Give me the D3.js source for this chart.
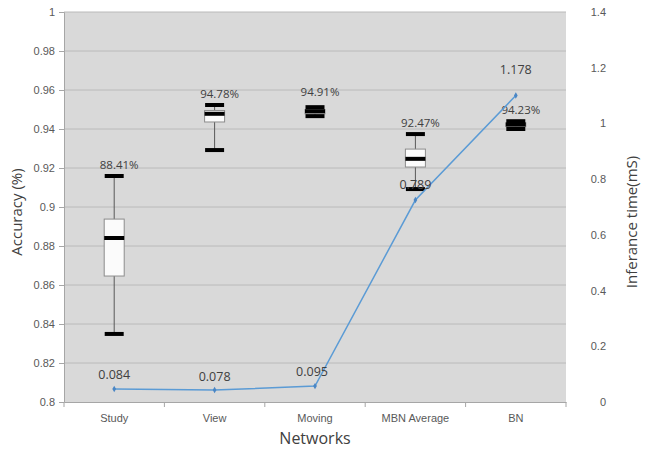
<!DOCTYPE html>
<html>
<head>
<meta charset="utf-8">
<script src="https://cdn.jsdelivr.net/npm/d3@7"></script>
<style>
  body { margin: 0; background: #fff; }
  svg { display: block; font-family: "Open Sans", "DejaVu Sans", sans-serif; }
</style>
</head>
<body>
<svg width="645" height="450"></svg>
<script>
// accuracy boxes per network + inference time line
const networks = ['Study', 'View', 'Moving', 'MBN Average', 'BN'];
const accMin = [0.8349, 0.9292, 0.9466, 0.9092, 0.9400];
const accQ1 = [0.8646, 0.9436, 0.9478, 0.9205, 0.9412];
const accMedian = [0.8841, 0.9478, 0.9491, 0.9247, 0.9423];
const accQ3 = [0.8938, 0.9495, 0.9500, 0.9297, 0.9432];
const accMax = [0.9159, 0.9523, 0.9512, 0.9374, 0.9440];
const accLabels = ['88.41%', '94.78%', '94.91%', '92.47%', '94.23%'];
const timeValues = [0.047, 0.043, 0.057, 0.725, 1.10];
const timeLabels = ['0.084', '0.078', '0.095', '0.789', '1.178'];
const leftTicks = [0.8, 0.82, 0.84, 0.86, 0.88, 0.9, 0.92, 0.94, 0.96, 0.98, 1];
const rightTicks = [0, 0.2, 0.4, 0.6, 0.8, 1, 1.2, 1.4];

function draw() {
  const svg = d3.select('svg');
  const left = 64, right = 566, top = 12, bottom = 402;

  const x = d3.scaleBand().domain(networks).range([left, right]);
  const y = d3.scaleLinear().domain([0.8, 1]).range([bottom, top]);
  const y2 = d3.scaleLinear().domain([0, 1.4]).range([bottom, top]);

  // plot background
  svg.append('rect')
    .attr('x', left).attr('y', top)
    .attr('width', right - left).attr('height', bottom - top)
    .attr('fill', '#d9d9d9');

  // gridlines
  svg.append('g')
    .selectAll('line')
    .data(leftTicks.slice(1))
    .join('line')
    .attr('x1', left).attr('x2', right)
    .attr('y1', d => y(d)).attr('y2', d => y(d))
    .attr('stroke', '#bababa').attr('stroke-width', 1);

  // left axis
  const yAxis = svg.append('g')
    .attr('transform', `translate(${left},0)`)
    .call(d3.axisLeft(y).tickValues(leftTicks).tickSize(5).tickPadding(4)
      .tickFormat(d => d3.format('')(+d.toFixed(2))));
  yAxis.select('.domain').attr('stroke', '#a6a6a6');
  yAxis.selectAll('.tick line').attr('stroke', '#a6a6a6');
  yAxis.selectAll('text').attr('fill', '#595959').attr('font-size', 11);

  // right axis (labels only)
  const y2Axis = svg.append('g')
    .attr('transform', `translate(${right + 40},0)`)
    .call(d3.axisLeft(y2).tickValues(rightTicks).tickSize(0).tickPadding(0)
      .tickFormat(d => d3.format('')(+d.toFixed(1))));
  y2Axis.select('.domain').remove();
  y2Axis.selectAll('text').attr('fill', '#595959').attr('font-size', 11);

  // bottom axis
  const xAxis = svg.append('g')
    .attr('transform', `translate(0,${bottom})`)
    .call(d3.axisBottom(x).tickSize(0).tickPadding(12));
  xAxis.select('.domain').attr('stroke', '#a6a6a6');
  xAxis.selectAll('text').attr('fill', '#595959').attr('font-size', 11);
  xAxis.selectAll('.bound')
    .data(d3.range(networks.length + 1))
    .join('line')
    .attr('x1', i => left + i * x.step()).attr('x2', i => left + i * x.step())
    .attr('y1', 0).attr('y2', 5)
    .attr('stroke', '#a6a6a6');

  // box plots
  const boxW = 20, capW = 19;
  const boxes = svg.append('g')
    .selectAll('g')
    .data(networks)
    .join('g')
    .attr('transform', d => `translate(${x(d) + x.bandwidth() / 2},0)`);

  boxes.append('line')
    .attr('y1', (d, i) => y(accMin[i])).attr('y2', (d, i) => y(accMax[i]))
    .attr('stroke', '#595959').attr('stroke-width', 1);
  boxes.append('rect')
    .attr('x', -boxW / 2).attr('width', boxW)
    .attr('y', (d, i) => y(accQ3[i]))
    .attr('height', (d, i) => y(accQ1[i]) - y(accQ3[i]))
    .attr('fill', '#fbfbfb').attr('stroke', '#8c8c8c').attr('stroke-width', 1);
  [accMin, accMax].forEach(arr => {
    boxes.append('line')
      .attr('x1', -capW / 2).attr('x2', capW / 2)
      .attr('y1', (d, i) => y(arr[i])).attr('y2', (d, i) => y(arr[i]))
      .attr('stroke', '#000').attr('stroke-width', 4);
  });
  boxes.append('line')
    .attr('x1', -boxW / 2).attr('x2', boxW / 2)
    .attr('y1', (d, i) => y(accMedian[i])).attr('y2', (d, i) => y(accMedian[i]))
    .attr('stroke', '#000').attr('stroke-width', 4);
  boxes.append('text')
    .attr('x', 5)
    .attr('y', (d, i) => y(accMax[i]) - [11, 11, 15, 11, 11][i])
    .attr('dy', '0.35em')
    .attr('text-anchor', 'middle')
    .attr('font-size', 11.5)
    .attr('fill', '#404040')
    .text((d, i) => accLabels[i]);

  // inference time line
  const line = d3.line()
    .x((d, i) => x(networks[i]) + x.bandwidth() / 2)
    .y(d => y2(d));
  svg.append('path')
    .datum(timeValues)
    .attr('d', line)
    .attr('fill', 'none')
    .attr('stroke', '#5b9bd5')
    .attr('stroke-width', 1.5);
  svg.append('g')
    .selectAll('path')
    .data(timeValues)
    .join('path')
    .attr('d', d3.symbol(d3.symbolDiamond, 12))
    .attr('transform', (d, i) => `translate(${x(networks[i]) + x.bandwidth() / 2},${y2(d)})`)
    .attr('fill', '#4a86c5');
  svg.append('g')
    .selectAll('text')
    .data(timeValues)
    .join('text')
    .attr('x', (d, i) => x(networks[i]) + x.bandwidth() / 2 + (i === 2 ? -3 : 0))
    .attr('y', (d, i) => y2(d) - [14, 13, 14, 15, 26][i])
    .attr('dy', '0.35em')
    .attr('text-anchor', 'middle')
    .attr('font-size', 12.5)
    .attr('fill', '#404040')
    .text((d, i) => timeLabels[i]);

  // axis titles
  svg.append('text')
    .attr('transform', `translate(17,${(top + bottom) / 2 + 5}) rotate(-90)`)
    .attr('text-anchor', 'middle')
    .attr('dy', '0.35em')
    .attr('font-size', 15)
    .attr('fill', '#404040')
    .text('Accuracy (%)');
  svg.append('text')
    .attr('transform', `translate(632,${(top + bottom) / 2 + 15}) rotate(-90)`)
    .attr('text-anchor', 'middle')
    .attr('dy', '0.35em')
    .attr('font-size', 15)
    .attr('fill', '#404040')
    .text('Inferance time(mS)');
  svg.append('text')
    .attr('x', (left + right) / 2)
    .attr('y', 438)
    .attr('dy', '0.35em')
    .attr('text-anchor', 'middle')
    .attr('font-size', 16)
    .attr('fill', '#404040')
    .text('Networks');
}

draw();
</script>
</body>
</html>
